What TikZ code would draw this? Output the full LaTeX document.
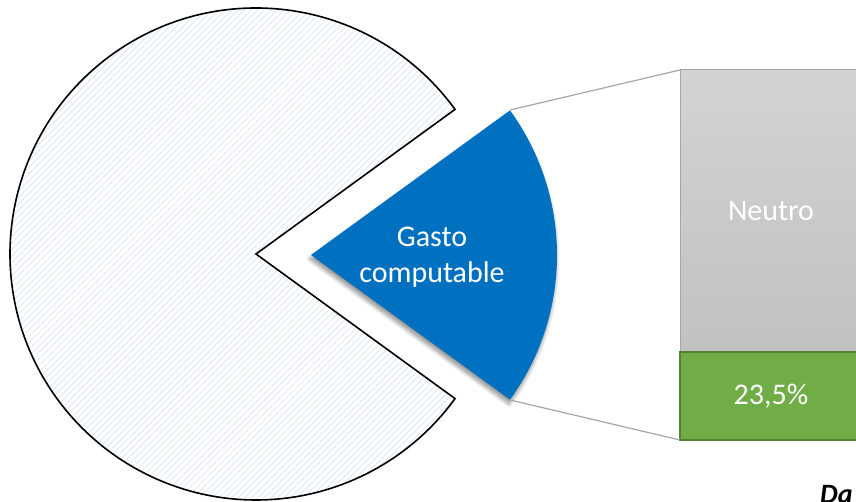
\documentclass[tikz,border=0pt]{standalone}
\usepackage{fontspec}
\setmainfont{Carlito}
\usetikzlibrary{patterns.meta,shadows.blur}
\definecolor{sliceblue}{HTML}{0070C0}
\definecolor{hatchblue}{HTML}{DAE6F6}
\definecolor{linkgray}{HTML}{A6A6A6}
\definecolor{barlight}{HTML}{D3D3D3}
\definecolor{bardark}{HTML}{C1C1C1}
\definecolor{bargreen}{HTML}{70AD47}
\definecolor{bargreenline}{HTML}{548235}

\begin{document}
\begin{tikzpicture}
[x=1pt, y=1pt, hatch/.style={pattern={Lines[angle=45, distance=4.6pt, line width=0.8pt]}, pattern color=hatchblue},
 bar/.style={anchor=south west, minimum width=182pt, inner sep=0, outer sep=0, text=white, font=\fontsize{30}{36}\selectfont},
 link/.style={draw=linkgray, line width=1.2pt}]
\clip (0, 0) rectangle (856, 502);
\draw [hatch, line width=1.6pt, line join=miter] (256, 248) -- ++(36:246) arc (36:324:246) -- cycle;
\fill [sliceblue, blur shadow={shadow xshift=-1pt, shadow yshift=-4pt, shadow blur radius=4pt, shadow blur steps=8, shadow opacity=45}] (311, 247) -- ++(-36:246) arc (-36:36:246) -- cycle;
\node (gasto) [text=white, align=center, font=\fontsize{30}{36}\selectfont] at (432, 245) {Gasto\\computable};
\coordinate (top) at (510, 392);
\coordinate (bot) at (510, 102);
\node (neutro) [bar, minimum height=282pt, top color=barlight, bottom color=bardark, draw=linkgray, line width=1pt] at (680, 150) {Neutro};
\node (pct) [bar, minimum height=88pt, fill=bargreen, draw=bargreenline, line width=1.5pt] at (680, 62) {23,5\%};
\draw [link] (top) -- (neutro.north west);
\draw [link] (bot) -- (pct.south west);
\node (fuente) [anchor=base west, inner sep=0, font=\fontsize{28}{32}\selectfont\bfseries\itshape] at (820, -2) {Da};
\end{tikzpicture}
\end{document}
